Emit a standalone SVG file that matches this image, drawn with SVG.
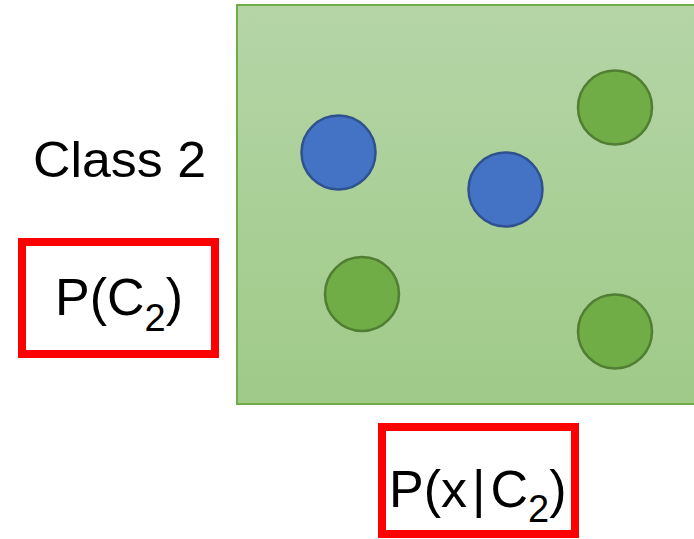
<svg xmlns="http://www.w3.org/2000/svg" width="694" height="539" viewBox="0 0 694 539">
<defs>
<linearGradient id="bg" x1="0" y1="0" x2="0" y2="1">
<stop offset="0" stop-color="#b5d5a7"/>
<stop offset="1" stop-color="#9fca88"/>
</linearGradient>
<style>
.blue{fill:#4472c4;stroke:#2f528f;stroke-width:2.5}
.green{fill:#70ad47;stroke:#507e32;stroke-width:2.5}
.box{fill:#ffffff;stroke:#ff0000;stroke-width:8}
.t{font-family:"Liberation Sans",Arial,sans-serif;fill:#000000}
.m{font-size:52px}
.s{font-size:38px}
</style>
</defs>
<g id="region">
<rect x="237" y="5" width="470" height="399" fill="url(#bg)" stroke="#70ad47" stroke-width="2"/>
</g>
<g id="points">
<circle id="b1" class="blue" cx="338.5" cy="152.5" r="37"/>
<circle id="b2" class="blue" cx="505.5" cy="189.5" r="37"/>
<circle id="g1" class="green" cx="615" cy="107.5" r="37"/>
<circle id="g2" class="green" cx="362" cy="294" r="37"/>
<circle id="g3" class="green" cx="615" cy="331.5" r="37"/>
</g>
<g id="label">
<text class="t" x="33" y="177" font-size="50" textLength="173" lengthAdjust="spacingAndGlyphs">Class 2</text>
</g>
<g id="prior">
<rect class="box" x="22" y="242" width="193" height="112"/>
<text class="t m" x="55" y="315">P(C<tspan class="s" dy="16">2</tspan><tspan dy="-16">)</tspan></text>
</g>
<g id="likelihood">
<rect class="box" x="382" y="427" width="193" height="107"/>
<text class="t m" x="389" y="507">P(x<tspan dx="5">|</tspan><tspan dx="5">C</tspan><tspan class="s" dy="15">2</tspan><tspan dy="-15">)</tspan></text>
</g>
</svg>
